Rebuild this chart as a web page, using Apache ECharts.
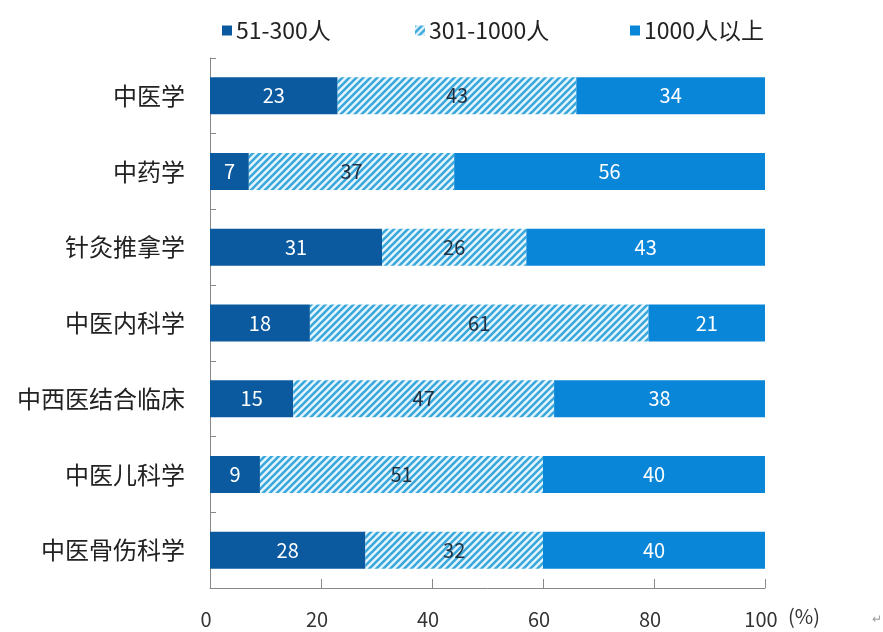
<!DOCTYPE html>
<html>
<head>
<meta charset="utf-8">
<script src="https://cdn.jsdelivr.net/npm/echarts@6/dist/echarts.min.js"></script>
<style>
html,body{margin:0;padding:0;background:#fff;}
#chart{width:883px;height:632px;}
</style>
</head>
<body>
<div id="chart"></div>
<script>
// Share of graduates by employer size, per discipline (%)
const categories = ['中医学', '中药学', '针灸推拿学', '中医内科学', '中西医结合临床', '中医儿科学', '中医骨伤科学'];
const seriesNames = ['51-300人', '301-1000人', '1000人以上'];
const small = [23, 7, 31, 18, 15, 9, 28];
const medium = [43, 37, 26, 61, 47, 51, 32];
const large = [34, 56, 43, 21, 38, 40, 40];
const xTicks = [0, 20, 40, 60, 80, 100];

const FONT = '"Noto Sans CJK SC", "Open Sans", sans-serif';
const C_DARK = '#0b5a9f';
const C_HATCH = '#3aa8dc';
const C_BLUE = '#0a86d9';

// diagonal hatch fill for the middle band
function hatch() {
  const s = 7;
  const c = document.createElement('canvas');
  c.width = s; c.height = s;
  const g = c.getContext('2d');
  g.fillStyle = '#e6f5fc';
  g.fillRect(0, 0, s, s);
  g.strokeStyle = C_HATCH;
  g.lineWidth = 2.6;
  g.beginPath();
  g.moveTo(-1, s + 1); g.lineTo(s + 1, -1);
  g.moveTo(-1, 1); g.lineTo(1, -1);
  g.moveTo(s - 1, s + 1); g.lineTo(s + 1, s - 1);
  g.stroke();
  return c;
}
const hatchFill = {image: hatch(), repeat: 'repeat'};

const chart = echarts.init(document.getElementById('chart'), null, {renderer: 'canvas'});
const labelBase = {show: true, position: 'inside', fontFamily: FONT, fontSize: 20};

function legendAt(left, idx, color) {
  return {
    top: 14,
    left: left,
    itemWidth: 10,
    itemHeight: 10,
    itemGap: 0,
    icon: 'rect',
    textStyle: {fontSize: 23, color: '#222', fontFamily: FONT, padding: [0, 0, 0, -1]},
    data: [{name: seriesNames[idx], itemStyle: {color: color}}]
  };
}

chart.setOption({
  animation: false,
  textStyle: {fontFamily: FONT},
  legend: [
    legendAt(217, 0, C_DARK),
    legendAt(410, 1, hatchFill),
    legendAt(625, 2, C_BLUE)
  ],
  grid: {left: 210, right: 118, top: 58, bottom: 44, containLabel: false},
  xAxis: {
    type: 'value',
    min: xTicks[0],
    max: xTicks[xTicks.length - 1],
    interval: 20,
    axisLine: {show: true, lineStyle: {color: '#888', width: 1}},
    axisTick: {show: true, inside: true, length: 9, lineStyle: {color: '#888'}},
    splitLine: {show: false},
    axisLabel: {
      fontSize: 20, color: '#333', margin: 21, fontFamily: FONT,
      padding: [0, 8, 0, 0]
    }
  },
  yAxis: {
    type: 'category',
    data: categories,
    inverse: true,
    axisLine: {show: true, lineStyle: {color: '#888', width: 1}},
    axisTick: {show: true, inside: true, length: 6, lineStyle: {color: '#888'}},
    axisLabel: {fontSize: 24, color: '#222', margin: 25, fontFamily: FONT}
  },
  series: [
    {
      name: seriesNames[0], type: 'bar', stack: 'total', barWidth: 37, data: small,
      itemStyle: {color: C_DARK},
      label: Object.assign({}, labelBase, {color: '#fff'})
    },
    {
      name: seriesNames[1], type: 'bar', stack: 'total', barWidth: 37, data: medium,
      itemStyle: {color: hatchFill},
      label: Object.assign({}, labelBase, {color: '#1f2f3f'})
    },
    {
      name: seriesNames[2], type: 'bar', stack: 'total', barWidth: 37, data: large,
      itemStyle: {color: C_BLUE},
      label: Object.assign({}, labelBase, {color: '#fff'})
    }
  ],
  graphic: [
    {type: 'text', left: 788, top: 606, style: {text: '(%)', fontSize: 20, fill: '#333', fontFamily: FONT}},
    {type: 'text', left: 872, top: 614, style: {text: '↵', fontSize: 12, fill: '#999'}}
  ]
});
</script>
</body>
</html>
